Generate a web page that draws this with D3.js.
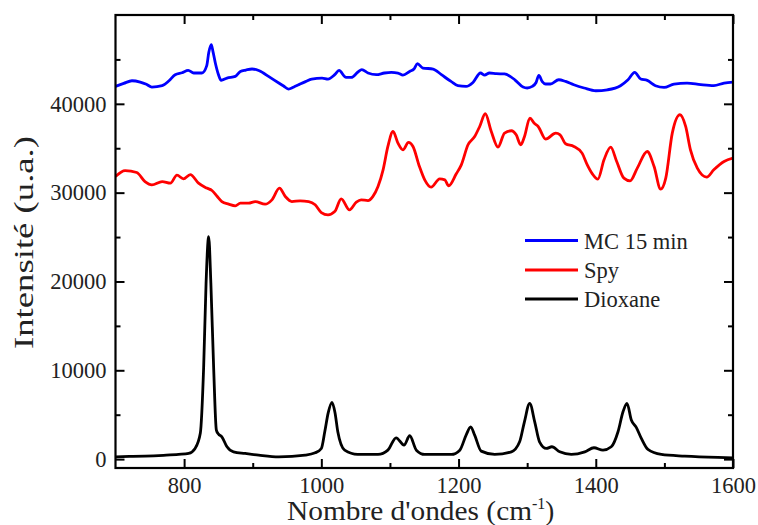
<!DOCTYPE html>
<html><head><meta charset="utf-8">
<script src="https://cdn.jsdelivr.net/npm/d3@7"></script>
<style>
html,body{margin:0;padding:0;background:#fff;}
svg text{font-family:"Liberation Serif","Times New Roman",serif;fill:#222;}
</style></head>
<body><svg id="c" width="758" height="525"></svg>
<script>
// ---- data ----
const seriesNames = ["MC 15 min", "Spy", "Dioxane"];
const seriesColors = ["#0000ff", "#ff0000", "#000000"];

const mcX = [700,712,724,736,745,753,768,778,787,797,806,814,826,833,836,839.6,842,845.5,850,854,862.5,874.6,882,890,899,908.7,915,923,938,945,952,960,967,977,986,1001,1009.7,1019.5,1025.8,1036,1043.7,1053.4,1059,1068,1080,1092,1102,1111.7,1119,1128.8,1135,1140,1148,1163,1175,1189,1199,1211,1221,1232,1238,1245,1255,1267,1282,1294,1300,1307.5,1313,1317,1322,1327,1334,1346,1356,1368,1383,1400,1417,1436,1447,1456.7,1465.5,1475,1487,1499.5,1514,1533,1553,1572,1587,1600];
const mcY = [41960,42300,42600,42450,42200,41890,42040,42600,43280,43500,43760,43470,43470,44300,45800,46660,45900,44600,43300,42640,42900,43090,43650,43800,43920,43760,43500,43090,42340,42000,41660,41900,42150,42500,42790,42900,42790,43280,43760,42970,42970,43580,43840,43470,43280,43470,43540,43470,43240,43650,43920,44520,44030,43920,43280,42520,42040,41960,42410,43470,43240,43470,43400,43360,42710,41890,41780,41960,42400,43200,42500,42230,42230,42710,42520,42150,41780,41470,41580,42040,42710,43540,42790,42640,42040,41850,42230,42340,42150,42040,42340,42450];

const spyX = [700,714,731,743,753,768,780,789.6,799,809,821,833,840.6,848,855,865,874.6,882,894,903.7,918,928,939,947.5,957,969,981.6,991,1000,1009.7,1019.5,1029,1041,1051,1058,1068,1075,1082.6,1090,1097,1104.5,1111.7,1119,1127,1133.6,1143,1150.7,1160,1172.5,1180,1185.6,1196.7,1204,1213.8,1223.5,1230.8,1239,1247.7,1257.5,1267,1277,1284,1290.6,1296,1304,1310,1316,1327,1341.6,1348,1356,1368,1380,1387.6,1395,1403,1412,1421.7,1430.5,1441,1450,1460.5,1475,1485,1494.6,1502,1511.5,1522.7,1531,1538,1548,1561.7,1572,1587,1600];
const spyY = [31815,32490,32270,31250,30880,31250,31070,31970,31560,32040,31070,30510,30240,29600,29000,28700,28510,28820,28820,29000,28700,29190,30510,29560,29000,29080,29000,28630,27760,27500,27870,29300,28060,28930,29190,29110,29560,30690,32570,35200,36890,35580,34820,35650,35200,32940,31440,30620,31560,31440,30770,32120,33130,35390,36320,37450,38880,36890,35130,36700,36970,36510,35390,36300,38400,37830,37450,36030,36700,36510,35500,35200,34450,33130,32120,31520,33700,35130,33510,31630,31330,32760,34630,32940,30390,31630,36700,38770,37450,34820,32760,31750,32570,33510,33890];

const dioX = [700,720,743,770,792,806.7,816,823.6,828.5,832,835.8,839,843,847,850,855,862.5,872,889,908.7,938,976.6,991,1000,1005,1010,1015.5,1020,1024,1034,1053,1082.6,1097,1109,1120.5,1128.8,1138.5,1150.7,1189.5,1201.8,1211,1217.7,1223.5,1233,1252.7,1277,1289,1296,1303.7,1311,1318,1328,1336,1347.5,1364.3,1384,1397.4,1410.5,1422.6,1432.4,1439.7,1445.5,1451.8,1459,1466.4,1476,1495.5,1529.6,1578,1600];
const dioY = [260,300,340,430,530,640,1200,2900,10400,19800,25050,19800,10400,3270,2820,2510,1390,820,640,450,260,450,710,1200,3080,5200,6390,5200,3080,1010,530,530,1010,2400,1580,2630,1010,530,530,1010,2700,3640,2700,900,530,820,1950,4200,6280,4200,1950,1200,1390,820,530,820,1280,1010,1390,3080,5330,6280,4400,3570,2330,1090,530,340,190,150];

const xMajor = [800,1000,1200,1400,1600];
const xMinor = [900,1100,1300,1500];
const yMajor = [0,10000,20000,30000,40000];
const yMinor = [5000,15000,25000,35000,45000];

// ---- layout ----
const L = 115.5, R = 733, T = 15, B = 468;
const svg = d3.select("#c");
const x = d3.scaleLinear().domain([700,1600]).range([L,R]);
const y = d3.scaleLinear().domain([-1000,50000]).range([B,T]);

const series = [
  {xs: mcX, ys: mcY},
  {xs: spyX, ys: spyY},
  {xs: dioX, ys: dioY}
];

const line = d3.line().x(d=>x(d[0])).y(d=>y(d[1])).curve(d3.curveMonotoneX);
svg.append("clipPath").attr("id","pc").append("rect")
  .attr("x",L).attr("y",T).attr("width",R-L).attr("height",B-T);
const g = svg.append("g").attr("clip-path","url(#pc)");
series.forEach((s,i)=>{
  g.append("path").datum(s.xs.map((v,k)=>[v,s.ys[k]]))
   .attr("d",line).attr("fill","none").attr("stroke",seriesColors[i])
   .attr("stroke-width",2.8).attr("stroke-linejoin","round");
});

// axes
function addAxis(axisFn, transform, ticks, size, labels){
  const a = axisFn.tickValues(ticks).tickSizeInner(size).tickSizeOuter(0).tickPadding(9);
  if(!labels) a.tickFormat("");
  const ag = svg.append("g").attr("transform",transform).call(a);
  ag.select(".domain").remove();
  ag.selectAll(".tick line").attr("stroke","#000").attr("stroke-width",2);
  ag.selectAll(".tick text").style("font-size","22.5px").attr("fill","#222")
    .style("font-family",'"Liberation Serif",serif');
  return ag;
}
const fmt = d3.format("d");
addAxis(d3.axisBottom(x).tickFormat(fmt), `translate(0,${B})`, xMajor, -9, true)
  .selectAll(".tick text").attr("dy","0.72em");
addAxis(d3.axisBottom(x), `translate(0,${B})`, xMinor, -5, false);
addAxis(d3.axisTop(x), `translate(0,${T})`, xMajor, -9, false);
addAxis(d3.axisTop(x), `translate(0,${T})`, xMinor, -5, false);
addAxis(d3.axisLeft(y).tickFormat(fmt), `translate(${L},0)`, yMajor, -9, true);
addAxis(d3.axisLeft(y), `translate(${L},0)`, yMinor, -5, false);
addAxis(d3.axisRight(y), `translate(${R},0)`, yMajor, -9, false);
addAxis(d3.axisRight(y), `translate(${R},0)`, yMinor, -5, false);

svg.append("rect").attr("x",L).attr("y",T).attr("width",R-L).attr("height",B-T)
  .attr("fill","none").attr("stroke","#000").attr("stroke-width",2.2);

// titles
const xt = svg.append("text").attr("x",287).attr("y",520)
  .style("font-size","27px");
xt.append("tspan").text("Nombre d'ondes (cm").attr("textLength",245).attr("lengthAdjust","spacingAndGlyphs");
xt.append("tspan").text("-1").attr("dy",-11).style("font-size","16px");
xt.append("tspan").text(")").attr("dy",11);

svg.append("text").attr("transform",`translate(33,${(T+B)/2 + 1}) rotate(-90)`)
  .attr("text-anchor","middle").style("font-size","27px")
  .attr("textLength",213).attr("lengthAdjust","spacingAndGlyphs")
  .text("Intensité (u.a.)");

// legend
const legY = [240.5,270,299];
seriesNames.forEach((n,i)=>{
  svg.append("line").attr("x1",525).attr("x2",578).attr("y1",legY[i]).attr("y2",legY[i])
    .attr("stroke",seriesColors[i]).attr("stroke-width",2.8);
  svg.append("text").attr("x",584).attr("y",legY[i]+8).style("font-size","22.5px").text(n);
});
</script></body></html>
